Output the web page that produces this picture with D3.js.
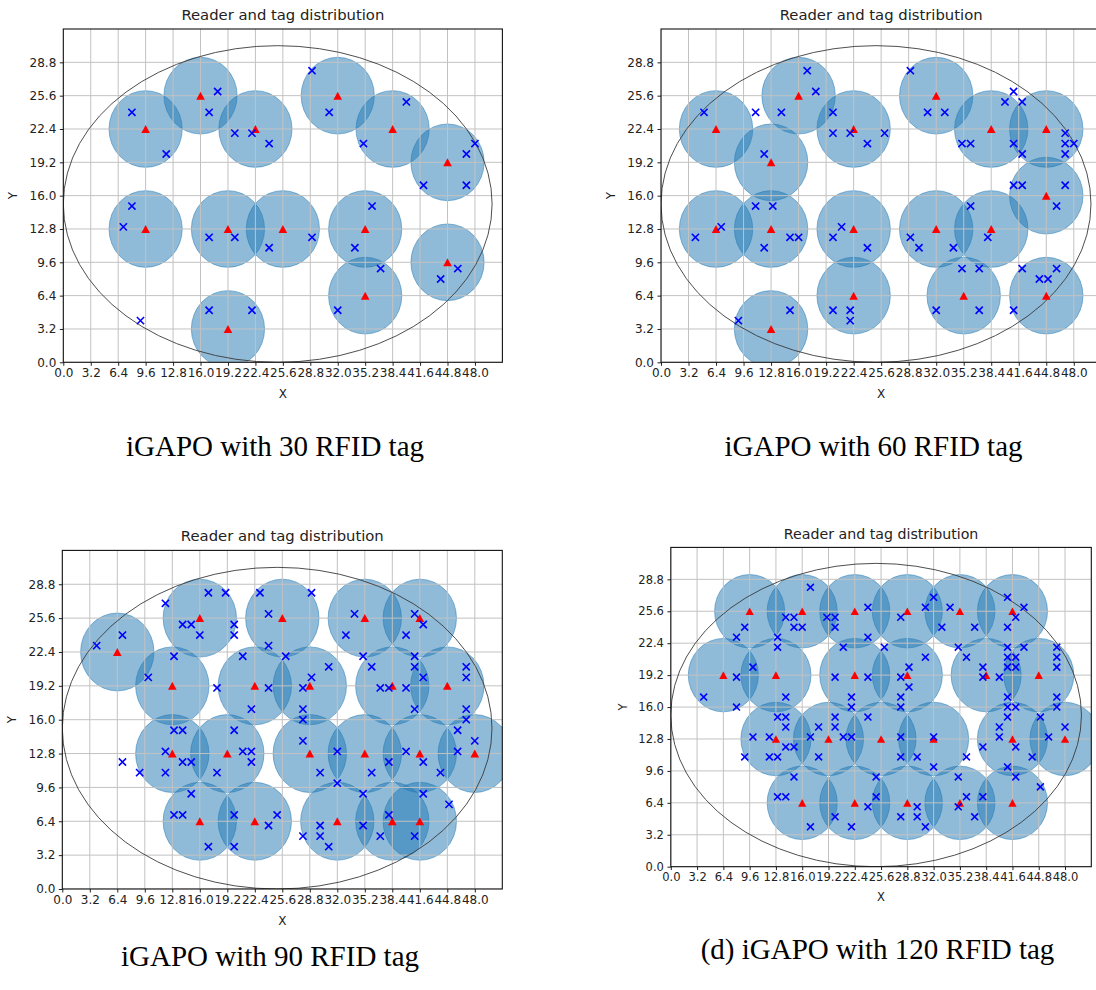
<!DOCTYPE html>
<html>
<head>
<meta charset="utf-8">
<script src="https://cdn.jsdelivr.net/npm/d3@7"></script>
<style>
  body { margin: 0; background: #fff; }
  svg { display: block; }
</style>
</head>
<body>
<svg id="fig" width="1096" height="990"></svg>
<script>
// axis ticks shared by the four panels (step 3.2)
const xTicks = d3.range(0, 16).map(i => +(i * 3.2).toFixed(1));
const yTicks = d3.range(0, 10).map(i => +(i * 3.2).toFixed(1));
const xLimit = [0, 51.2];
const yLimit = [0, 32];
const titleText = "Reader and tag distribution";

// deployment area drawn as an ellipse: [cx, cy, rx, ry]
const area = [25, 15.2, 25, 15.2];
// reader range, in data units along x and y
const range = [4.27, 3.68];

// (a) 30 tags
const readers30 = [[9.6,22.4],[16.0,25.6],[22.4,22.4],[32.0,25.6],[38.4,22.4],[44.8,19.2],
  [9.6,12.8],[19.2,12.8],[25.6,12.8],[35.2,12.8],[35.2,6.4],[44.8,9.6],[19.2,3.2]];
const tags30 = [[8,24],[12,20],[18,26],[17,24],[20,22],[22,22],[24,21],[29,28],[31,24],[40,25],
  [35,21],[47,20],[48,21],[42,17],[47,17],[8,15],[7,13],[17,12],[20,12],[24,11],
  [29,12],[36,15],[34,11],[37,9],[46,9],[44,8],[32,5],[17,5],[22,5],[9,4]];

// (b) 60 tags
const readers60 = [[6.4,22.4],[16.0,25.6],[22.4,22.4],[32.0,25.6],[38.4,22.4],[44.8,22.4],
  [12.8,19.2],[44.8,16.0],[6.4,12.8],[12.8,12.8],[22.4,12.8],[32.0,12.8],[38.4,12.8],
  [22.4,6.4],[35.2,6.4],[44.8,6.4],[12.8,3.2]];
const tags60 = [[5,24],[11,24],[14,24],[17,28],[18,26],[20,24],[20,22],[22,22],[24,21],[26,22],
  [12,20],[29,28],[31,24],[33,24],[35,21],[36,21],[40,25],[41,26],[42,25],[41,21],
  [42,20],[47,22],[47,21],[48,21],[47,20],[41,17],[42,17],[47,17],[46,15],[11,15],
  [13,15],[7,13],[4,12],[12,11],[15,12],[16,12],[20,12],[21,13],[24,11],[29,12],
  [30,11],[34,11],[36,15],[38,12],[35,9],[37,9],[42,9],[46,9],[44,8],[45,8],
  [9,4],[15,5],[20,5],[22,5],[22,4],[32,5],[37,5],[41,5]];

// (c) 90 tags
const readers90 = [[6.4,22.4],[16.0,25.6],[25.6,25.6],[35.2,25.6],[41.6,25.6],
  [12.8,19.2],[22.4,19.2],[28.8,19.2],[38.4,19.2],[44.8,19.2],
  [12.8,12.8],[19.2,12.8],[28.8,12.8],[35.2,12.8],[41.6,12.8],[48.0,12.8],
  [16.0,6.4],[22.4,6.4],[32.0,6.4],[38.4,6.4],[41.6,6.4]];
const tags90 = [[4,23],[7,24],[12,27],[17,28],[19,28],[14,25],[15,25],[16,24],[20,25],[20,24],
  [13,22],[10,20],[23,28],[24,26],[24,23],[21,22],[26,22],[29,28],[29,20],[31,21],
  [18,19],[24,19],[28,19],[22,17],[28,17],[28,16],[33,24],[34,26],[35,22],[36,21],
  [37,19],[38,19],[40,19],[40,24],[41,26],[42,25],[41,22],[41,21],[42,20],[41,17],
  [47,21],[47,20],[47,17],[47,16],[46,15],[48,14],[46,13],[44,11],[42,12],[40,13],
  [38,12],[36,11],[32,13],[32,10],[30,11],[28,14],[13,15],[14,15],[12,13],[14,12],
  [15,12],[12,11],[9,11],[7,12],[18,11],[20,15],[21,13],[22,13],[22,12],[15,9],
  [13,7],[14,7],[17,4],[20,7],[20,4],[25,7],[24,6],[28,5],[30,6],[30,5],
  [31,4],[35,9],[35,6],[37,5],[38,7],[41,5],[42,9],[45,8]];

// (d) 120 tags
const readers120 = [[9.6,25.6],[16.0,25.6],[22.4,25.6],[28.8,25.6],[35.2,25.6],[41.6,25.6],
  [6.4,19.2],[12.8,19.2],[22.4,19.2],[28.8,19.2],[38.4,19.2],[44.8,19.2],
  [12.8,12.8],[19.2,12.8],[25.6,12.8],[32.0,12.8],[41.6,12.8],[48.0,12.8],
  [16.0,6.4],[22.4,6.4],[28.8,6.4],[35.2,6.4],[41.6,6.4]];
const tags120 = [[17,28],[32,27],[41,27],[31,26],[34,26],[24,26],[43,26],[28,25],[14,25],[15,25],
  [19,25],[20,25],[42,25],[9,24],[15,24],[16,24],[20,24],[33,24],[37,24],[41,24],
  [8,23],[13,23],[24,23],[13,22],[21,22],[26,22],[35,22],[41,22],[43,22],[47,22],
  [31,21],[36,21],[41,21],[42,21],[47,21],[10,20],[29,20],[38,20],[41,20],[42,20],
  [47,20],[8,19],[20,19],[24,19],[28,19],[38,19],[40,19],[29,18],[4,17],[14,17],
  [22,17],[28,17],[41,17],[47,17],[8,16],[22,16],[28,16],[41,16],[42,16],[47,16],
  [13,15],[14,15],[20,15],[24,15],[41,15],[45,15],[14,14],[18,14],[20,14],[40,14],
  [48,14],[10,13],[12,13],[17,13],[21,13],[22,13],[28,13],[32,13],[40,13],[46,13],
  [14,12],[15,12],[38,12],[42,12],[9,11],[12,11],[13,11],[18,11],[28,11],[30,11],
  [36,11],[44,11],[32,10],[41,10],[15,9],[25,9],[35,9],[42,9],[45,8],[13,7],
  [14,7],[25,7],[36,7],[38,7],[24,6],[30,6],[35,6],[20,5],[28,5],[30,5],
  [37,5],[17,4],[22,4],[31,4]];

const captions = ["iGAPO with 30 RFID tag", "iGAPO with 60 RFID tag",
                  "iGAPO with 90 RFID tag", "(d) iGAPO with 120 RFID tag"];

// where each panel sits in the figure
const panels = [
  { readers: readers30,  tags: tags30,  caption: captions[0], box: [63.3, 29.0, 439.1, 333.3], cap: [275, 456], k: 1 },
  { readers: readers60,  tags: tags60,  caption: captions[1], box: [661.0, 29.0, 440.3, 333.3], cap: [873.5, 456], k: 1 },
  { readers: readers90,  tags: tags90,  caption: captions[2], box: [62.3, 550.4, 440.0, 338.6], cap: [270, 966], k: 1 },
  { readers: readers120, tags: tags120, caption: captions[3], box: [670.8, 547.4, 420.5, 319.3], cap: [877.5, 959], k: 0.96 }
];

const svg = d3.select("#fig");
const fmt = d3.format(".1f");
const sans = "DejaVu Sans, sans-serif";

function drawPanel(p, idx) {
  const [left, top, w, h] = p.box;
  const k = p.k;
  const x = d3.scaleLinear().domain(xLimit).range([0, w]);
  const y = d3.scaleLinear().domain(yLimit).range([h, 0]);

  const g = svg.append("g").attr("transform", `translate(${left},${top})`);

  const clipId = "clip" + idx;
  g.append("clipPath").attr("id", clipId)
    .append("rect").attr("width", w).attr("height", h);

  const plot = g.append("g").attr("clip-path", `url(#${clipId})`);

  // reader coverage
  plot.selectAll("ellipse.range").data(p.readers).join("ellipse")
    .attr("class", "range")
    .attr("cx", d => x(d[0]))
    .attr("cy", d => y(d[1]))
    .attr("rx", x(range[0]) - x(0))
    .attr("ry", y(0) - y(range[1]))
    .attr("fill", "#1f77b4").attr("fill-opacity", 0.5)
    .attr("stroke", "#1f77b4").attr("stroke-opacity", 0.5).attr("stroke-width", 1);

  // grid on top of the patches, like matplotlib does
  plot.selectAll("line.gx").data(xTicks).join("line")
    .attr("class", "gx")
    .attr("x1", d => x(d)).attr("x2", d => x(d))
    .attr("y1", 0).attr("y2", h)
    .attr("stroke", "#c2c2c2").attr("stroke-width", 1);
  plot.selectAll("line.gy").data(yTicks).join("line")
    .attr("class", "gy")
    .attr("x1", 0).attr("x2", w)
    .attr("y1", d => y(d)).attr("y2", d => y(d))
    .attr("stroke", "#c2c2c2").attr("stroke-width", 1);

  // deployment area
  plot.append("ellipse")
    .attr("cx", x(area[0])).attr("cy", y(area[1]))
    .attr("rx", x(area[2]) - x(0)).attr("ry", y(0) - y(area[3]))
    .attr("fill", "none").attr("stroke", "#3a3a3a").attr("stroke-width", 0.9);

  // readers: red triangles
  const tw = 4.3 * k, th = 4 * k;
  plot.selectAll("path.reader").data(p.readers).join("path")
    .attr("class", "reader")
    .attr("transform", d => `translate(${x(d[0])},${y(d[1])})`)
    .attr("d", `M0,${-th}L${tw},${th}L${-tw},${th}Z`)
    .attr("fill", "#ff0000");

  // tags: blue crosses
  const s = 3.6 * k;
  plot.selectAll("path.tag").data(p.tags).join("path")
    .attr("class", "tag")
    .attr("transform", d => `translate(${x(d[0])},${y(d[1])})`)
    .attr("d", `M${-s},${-s}L${s},${s}M${-s},${s}L${s},${-s}`)
    .attr("stroke", "#0000ff").attr("stroke-width", 1.6).attr("fill", "none");

  // axes
  const fs = 12 * k;
  const xAxis = g.append("g").attr("transform", `translate(0,${h})`)
    .call(d3.axisBottom(x).tickValues(xTicks).tickFormat(fmt).tickSize(3.5 * k).tickPadding(3));
  const yAxis = g.append("g")
    .call(d3.axisLeft(y).tickValues(yTicks).tickFormat(fmt).tickSize(3.5 * k).tickPadding(3.5));
  [xAxis, yAxis].forEach(a => {
    a.select(".domain").remove();
    a.selectAll("text").attr("font-family", sans).attr("font-size", fs).attr("fill", "#222");
    a.selectAll("line").attr("stroke", "#222");
  });

  g.append("rect").attr("width", w).attr("height", h)
    .attr("fill", "none").attr("stroke", "#111").attr("stroke-width", 1.1);

  g.append("text").attr("x", w / 2).attr("y", h + 36 * k)
    .attr("text-anchor", "middle").attr("font-family", sans).attr("font-size", fs)
    .attr("fill", "#222").text("X");
  g.append("text")
    .attr("transform", `translate(${-46 * k},${h / 2}) rotate(-90)`)
    .attr("text-anchor", "middle").attr("font-family", sans).attr("font-size", fs)
    .attr("fill", "#222").text("Y");

  g.append("text").attr("x", w / 2).attr("y", -9 * k)
    .attr("text-anchor", "middle").attr("font-family", sans).attr("font-size", 14.8 * k)
    .attr("fill", "#222").text(titleText);

  // caption under the panel
  svg.append("text").attr("x", p.cap[0]).attr("y", p.cap[1])
    .attr("text-anchor", "middle")
    .attr("font-family", "Liberation Serif, Times New Roman, serif")
    .attr("font-size", 29).attr("fill", "#000").text(p.caption);
}

panels.forEach(drawPanel);
</script>
</body>
</html>
